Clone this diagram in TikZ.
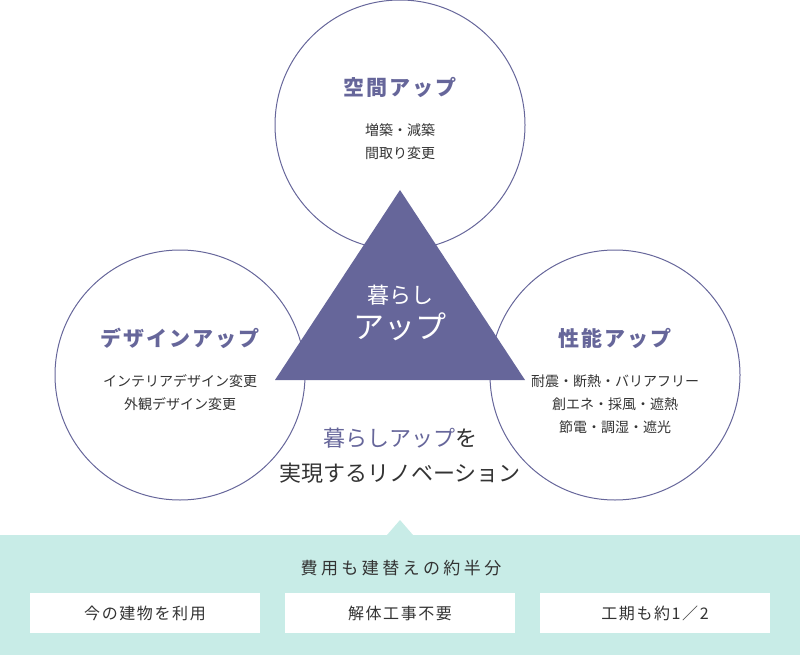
\documentclass[tikz,border=0pt]{standalone}
\usepackage{fontspec}
\setmainfont{Noto Sans CJK JP}
\usetikzlibrary{positioning}

\definecolor{kurapurple}{HTML}{66669A}
\definecolor{bandteal}{HTML}{C8ECE7}
\definecolor{txtgray}{HTML}{333333}

\begin{document}
\begin{tikzpicture}[
    x=1pt, y=-1pt,
    ring/.style={draw=kurapurple, line width=1pt, circle, minimum size=250pt, inner sep=0pt},
    head/.style={font=\fontsize{21}{24}\selectfont\bfseries\addfontfeature{LetterSpace=10}, text=kurapurple},
    body/.style={font=\fontsize{14}{23}\selectfont, text=txtgray, align=center},
    card/.style={fill=white, minimum width=230pt, minimum height=40pt, inner sep=0pt,
                 font=\fontsize{16}{18}\selectfont\addfontfeature{LetterSpace=10}, text=txtgray},
  ]
  \useasboundingbox (0,0) rectangle (800,655);

  % three circles
  \node[ring] (space)  at (400,125) {};
  \node[ring] (design) at (180,375) {};
  \node[ring] (perf)   at (615,375) {};

  % center triangle
  \fill[kurapurple] (400,190) -- (525,380) -- (275,380) -- cycle;
  \node[text=white, font=\fontsize{22}{26}\selectfont] (kurashi) at (400,295) {暮らし};
  \node[text=white, font=\fontsize{31}{34}\selectfont] (up) at (400,327) {アップ};

  % circle texts
  \node[head] (spacehead) at (400,88) {空間アップ};
  \node[body] (spacebody) at (400,142) {増築・減築\\間取り変更};
  \node[head] (designhead) at (180,338) {デザインアップ};
  \node[body] (designbody) at (180,393) {インテリアデザイン変更\\外観デザイン変更};
  \node[head] (perfhead) at (615,338) {性能アップ};
  \node[body] (perfbody) at (615,404) {耐震・断熱・バリアフリー\\創エネ・採風・遮熱\\節電・調湿・遮光};

  % middle message
  \node[font=\fontsize{22}{35}\selectfont, text=txtgray, align=center] (msg) at (400,456)
    {\textcolor{kurapurple}{暮らしアップ}を\\実現するリノベーション};

  % bottom band
  \fill[bandteal] (0,535) rectangle (800,655);
  \fill[bandteal] (387,535) -- (400,520) -- (413,535) -- cycle;
  \node[font=\fontsize{17}{20}\selectfont\addfontfeature{LetterSpace=20}, text=txtgray] (cost) at (401,568) {費用も建替えの約半分};
  \node[card] (reuse) at (145,613) {今の建物を利用};
  \node[card] (nodemo) at (400,613) {解体工事不要};
  \node[card] (half) at (655,613) {工期も約1／2};
\end{tikzpicture}
\end{document}
